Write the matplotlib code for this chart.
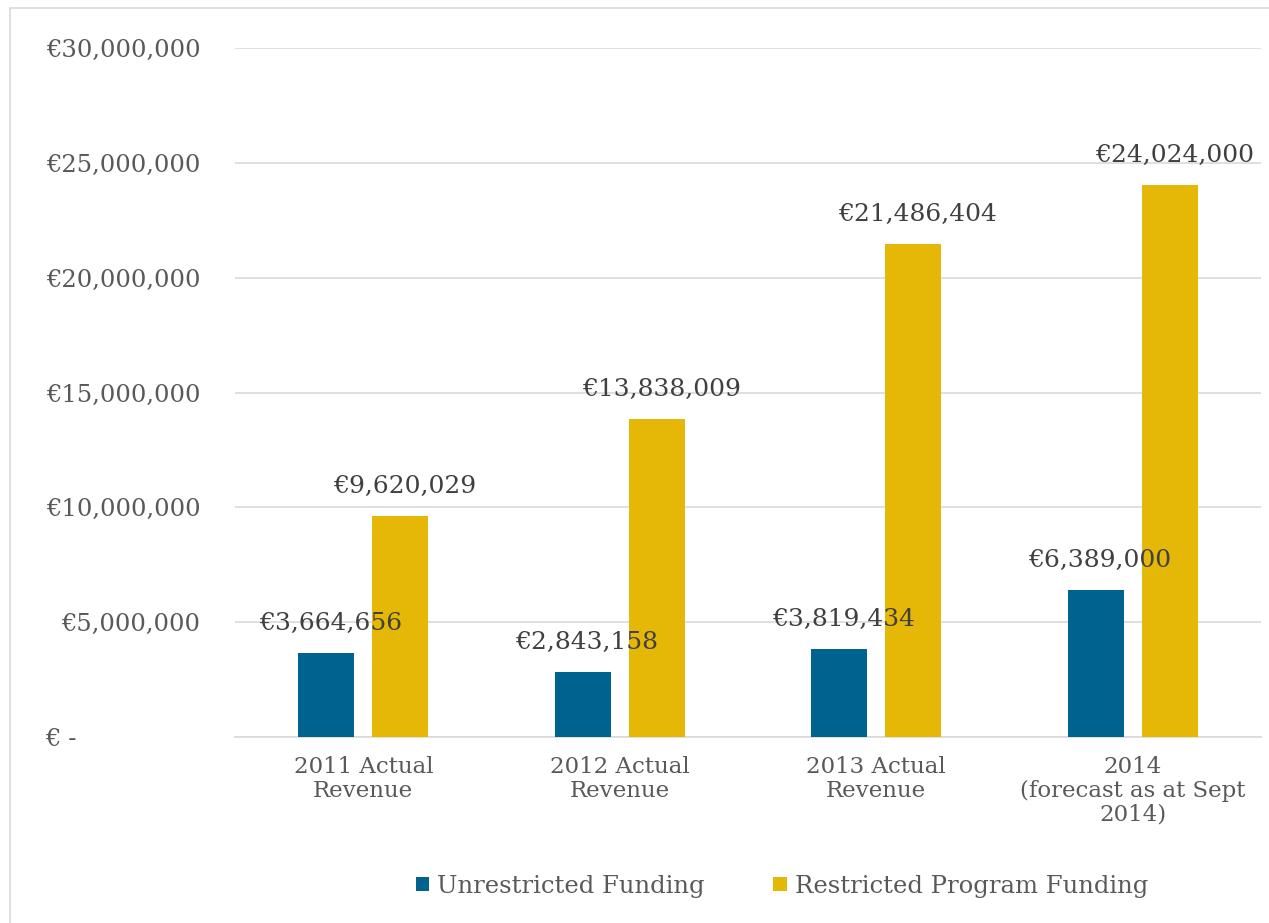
import matplotlib
matplotlib.use("Agg")
import matplotlib.pyplot as plt
import numpy as np
from matplotlib.ticker import FuncFormatter, MultipleLocator
from matplotlib.patches import Rectangle

categories = ["2011 Actual\nRevenue", "2012 Actual\nRevenue", "2013 Actual\nRevenue",
              "2014\n(forecast as at Sept\n2014)"]
unrestricted = [3664656, 2843158, 3819434, 6389000]
restricted = [9620029, 13838009, 21486404, 24024000]
series_names = ["Unrestricted Funding", "Restricted Program Funding"]

BLUE = "#00628F"
GOLD = "#E5B707"
TXT = "#595959"
plt.rcParams['font.family'] = ['DejaVu Serif']

fig = plt.figure(figsize=(12.69, 9.23), dpi=100)
fig.patches.append(Rectangle((10/1269, -0.05), 1.0, 1 - 8/923 + 0.05, transform=fig.transFigure,
                             fill=False, edgecolor="#D9D9D9", linewidth=1.2))
ax = fig.add_axes([235/1269, 1 - 737/923, 1026/1269, (737 - 48)/923])

x = np.arange(len(categories))
w = 0.218
off = 0.145
b1 = ax.bar(x - off, unrestricted, w, color=BLUE, label=series_names[0], zorder=3)
b2 = ax.bar(x + off, restricted, w, color=GOLD, label=series_names[1], zorder=3)

for bars, vals in ((b1, unrestricted), (b2, restricted)):
    for r, v in zip(bars, vals):
        ax.annotate("€{:,}".format(v), (r.get_x() + r.get_width() / 2, v),
                    xytext=(3, 13), textcoords="offset points", ha="center", va="bottom",
                    fontsize=18, color="#404040", zorder=4, annotation_clip=False)

ax.set_xlim(-0.5, 3.5)
ax.set_ylim(0, 30000000)
ax.yaxis.set_major_locator(MultipleLocator(5000000))
ax.yaxis.set_major_formatter(FuncFormatter(
    lambda v, p: "€ -                " if v == 0 else "€{:,.0f}".format(v)))
ax.set_xticks(x)
ax.set_xticklabels(categories, linespacing=1.1)
ax.tick_params(axis="y", length=0, labelsize=17.5, labelcolor=TXT, pad=25)
ax.tick_params(axis="x", length=0, labelsize=16.5, labelcolor=TXT, pad=14)
ax.grid(axis="y", color="#D9D9D9", linewidth=1.2, zorder=0)
for s in ("top", "right", "left"):
    ax.spines[s].set_visible(False)
ax.spines["bottom"].set_color("#D9D9D9")
ax.spines["bottom"].set_linewidth(1.2)

leg = fig.legend(handles=[b1, b2], labels=series_names, loc="center",
                 bbox_to_anchor=(782/1269, 1 - 886/923), ncol=2, frameon=False,
                 fontsize=17.5, handlelength=0.55, handleheight=0.55, handletextpad=0.35,
                 columnspacing=2.8)
for t in leg.get_texts():
    t.set_color(TXT)

fig.savefig("out.png", dpi=100)
